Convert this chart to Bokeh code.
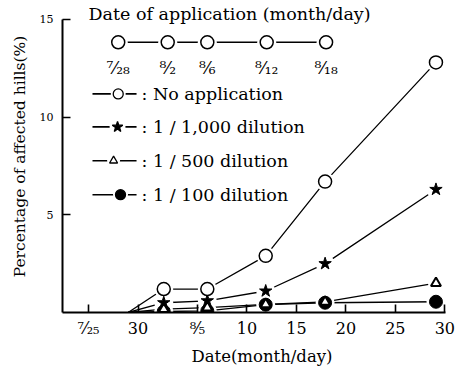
from bokeh.plotting import figure
from bokeh.models import Range1d, FixedTicker
from bokeh.embed import file_html
from bokeh.resources import INLINE
from bokeh.core.properties import value

# ---- data (x = days after July 25) ----
survey_days = [4, 7.6, 12, 17.9, 23.9, 35.1]
no_app = [0.0, 1.2, 1.2, 2.9, 6.7, 12.8]
dil_1000 = [0.0, 0.5, 0.6, 1.1, 2.5, 6.3]
dil_500 = [0.0, 0.17, 0.25, 0.42, 0.54, 1.5]
dil_100 = [0.0, 0.05, 0.08, 0.4, 0.5, 0.55]

app_days = [3, 8, 12, 18, 24]
app_labels = ["⁷⁄₂₈", "⁸⁄₂", "⁸⁄₆", "⁸⁄₁₂", "⁸⁄₁₈"]

x_ticks = [0, 5, 11, 16, 21, 26, 31, 36]
x_tick_labels = ["⁷⁄₂₅", "30", "⁸⁄₅", "10", "15", "20", "25", "30"]
y_ticks = [5, 10, 15]

series_names = [": No application", ": 1 / 1,000 dilution", ": 1 / 500 dilution", ": 1 / 100 dilution"]

FONT = "DejaVu Serif"

p = figure(width=461, height=368, x_range=Range1d(-2.63, 37.68), y_range=Range1d(0, 15.97),
           output_backend="svg", toolbar_location=None,
           min_border_left=62, min_border_right=0, min_border_top=0, min_border_bottom=55)
p.grid.visible = False
p.outline_line_color = None
p.background_fill_color = "white"

p.xaxis.bounds = (-2.63, 36.1)
p.yaxis.bounds = (0, 15)
p.xaxis.ticker = FixedTicker(ticks=x_ticks)
p.xaxis.major_label_overrides = {t: l for t, l in zip(x_ticks, x_tick_labels)}
p.yaxis.ticker = FixedTicker(ticks=y_ticks)
p.axis.minor_tick_line_color = None
p.axis.major_tick_in = 8
p.axis.major_tick_out = 0
p.axis.axis_line_width = 2
p.axis.axis_line_color = "black"
p.axis.major_tick_line_width = 1.6
p.axis.major_tick_line_color = "black"
p.axis.major_label_text_font = FONT
p.axis.major_label_text_color = "black"
p.xaxis.major_label_text_font_size = "16px"
p.xaxis.major_label_standoff = 6
p.yaxis.major_label_text_font_size = "11px"
p.yaxis.major_label_standoff = 9

p.xaxis.axis_label = "Date(month/day)"
p.yaxis.axis_label = "Percentage of affected hills(%)"
p.axis.axis_label_text_font = FONT
p.axis.axis_label_text_font_style = "normal"
p.axis.axis_label_text_color = "black"
p.xaxis.axis_label_text_font_size = "16.5px"
p.yaxis.axis_label_text_font_size = "15.5px"
p.xaxis.axis_label_standoff = 6
p.yaxis.axis_label_standoff = 8

series = [no_app, dil_1000, dil_500, dil_100]
styles = [
    dict(marker="circle", size=13, fill_color="white", line_width=1.5),
    dict(marker="star", size=13, fill_color="black", line_width=1),
    dict(marker="triangle", size=10, fill_color="white", line_width=2),
    dict(marker="circle", size=13, fill_color="black", line_width=1),
]

# lines
for ys in series:
    p.line(survey_days, ys, line_color="black", line_width=1.3)

# markers, bottom series first, with white halos that break the lines
for ys, st in reversed(list(zip(series, styles))):
    p.scatter(survey_days[1:], ys[1:], marker="circle", size=st["size"] + 6,
              fill_color="white", line_color=None)
for ys, st in reversed(list(zip(series, styles))):
    p.scatter(survey_days[1:], ys[1:], marker=st["marker"], size=st["size"],
              fill_color=st["fill_color"], line_color="black", line_width=st["line_width"])

# application-date inset
inset_y = 13.83
p.line(app_days, [inset_y] * len(app_days), line_color="black", line_width=1.4)
p.scatter(app_days, [inset_y] * len(app_days), size=19, fill_color="white", line_color=None)
p.scatter(app_days, [inset_y] * len(app_days), size=13, fill_color="white",
          line_color="black", line_width=1.5)
p.text(x=app_days, y=[12.5] * len(app_days), text=app_labels, text_font=value(FONT),
       text_font_size="17px", text_align="center", text_baseline="middle", text_color="black")
p.text(x=[0], y=[15.27], text=["Date of application (month/day)"], text_font=value(FONT),
       text_font_size="17.5px", text_align="left", text_baseline="middle", text_color="black")

# legend drawn by hand
row_y = [11.19, 9.50, 7.77, 6.03]
mark_x = [3.0, 2.93, 2.53, 3.23]
leg_sizes = [10, 11, 8, 10]
for ry, mx, st, ls, name in zip(row_y, mark_x, styles, leg_sizes, series_names):
    p.line([0.4, 4.85], [ry, ry], line_color="black", line_width=1.6)
    p.scatter([mx], [ry], marker="circle", size=ls + 5, fill_color="white", line_color=None)
    p.scatter([mx], [ry], marker=st["marker"], size=ls, fill_color=st["fill_color"],
              line_color="black", line_width=1.3)
    p.text(x=[5.35], y=[ry], text=[name], text_font=value(FONT), text_font_size="17.5px",
           text_align="left", text_baseline="middle", text_color="black")

open("out.html", "w").write(file_html(p, INLINE))
